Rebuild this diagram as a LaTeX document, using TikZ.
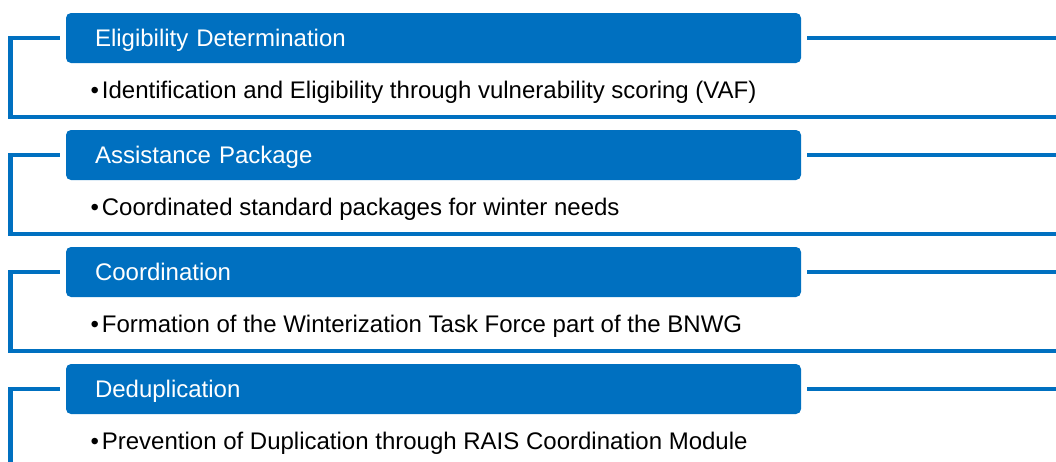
\documentclass[tikz,border=0pt]{standalone}
\usepackage{fontspec}
\setmainfont{Liberation Sans}
\usetikzlibrary{positioning}
\definecolor{wgblue}{RGB}{0,112,192}
\newcommand{\mBullet}{•\hspace{3pt}}

\begin{document}
\begin{tikzpicture}[%
    x=1pt, y=1pt,         % work in points, one point per pixel
    node distance=117pt,  % spacing of the header boxes
    ]
% -------------------------------------------------
% Box and line styles
\tikzset{
  hdrbox/.style={fill=wgblue, draw=none, rounded corners=5pt, rectangle},
  hdr/.style={hdrbox, on grid, minimum width=735pt, minimum height=50pt,
    text width=677pt, inner xsep=29pt, align=left, text height=16pt,
    text depth=0pt, text=white, font=\fontsize{24}{28}\selectfont},
  itm/.style={anchor=base west, inner sep=0pt, text=black,
    font=\fontsize{24}{28}\selectfont},
  frm/.style={draw=wgblue, line width=4.5pt},
}
\useasboundingbox (0,0) rectangle (1056,-461);
% -------------------------------------------------
% Headers
\node [hdr] (h1) at (433.5,-38) {Eligibility Determination};
\node [hdr, below=of h1] (h2) {Assistance Package};
\node [hdr, below=of h2] (h3) {Coordination};
\node [hdr, below=of h3] (h4) {Deduplication};

% Items
\node [itm] (b1) at ([xshift=24.5pt, yshift=-60pt] h1.west) {\mBullet Identification and Eligibility through vulnerability scoring (VAF)};
\node [itm] (b2) at ([xshift=24.5pt, yshift=-60pt] h2.west) {\mBullet Coordinated standard packages for winter needs};
\node [itm] (b3) at ([xshift=24.5pt, yshift=-60pt] h3.west) {\mBullet Formation of the Winterization Task Force part of the BNWG};
\node [itm] (b4) at ([xshift=24.5pt, yshift=-60pt] h4.west) {\mBullet Prevention of Duplication through RAIS Coordination Module};

% -------------------------------------------------
% Frame ends on the right edge
\coordinate (e1) at (1056,-117);
\coordinate (e2) at (1056,-234);
\coordinate (e3) at (1056,-351);
\coordinate (e4) at (1056,-468);

\draw [frm] ([xshift=-6pt] h1.west) -- ++(-49.5,0) |- (e1);
\draw [frm] ([xshift=6pt] h1.east) -- (h1.east -| e1);
\draw [frm] ([xshift=-6pt] h2.west) -- ++(-49.5,0) |- (e2);
\draw [frm] ([xshift=6pt] h2.east) -- (h2.east -| e2);
\draw [frm] ([xshift=-6pt] h3.west) -- ++(-49.5,0) |- (e3);
\draw [frm] ([xshift=6pt] h3.east) -- (h3.east -| e3);
\draw [frm] ([xshift=-6pt] h4.west) -- ++(-49.5,0) |- (e4);
\draw [frm] ([xshift=6pt] h4.east) -- (h4.east -| e4);
% -------------------------------------------------
\end{tikzpicture}
\end{document}
